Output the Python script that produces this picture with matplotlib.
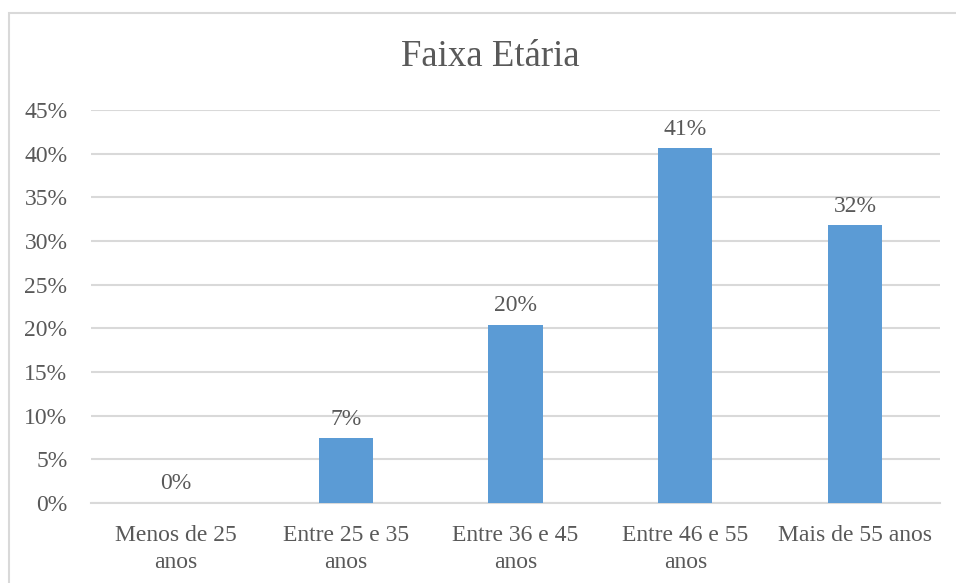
import matplotlib.pyplot as plt
from matplotlib.patches import Rectangle
from matplotlib.ticker import MultipleLocator, PercentFormatter

categories = ["Menos de 25\nanos", "Entre 25 e 35\nanos", "Entre 36 e 45\nanos",
              "Entre 46 e 55\nanos", "Mais de 55 anos"]
values = [0.0, 7.4, 20.4, 40.6, 31.8]
labels = ["0%", "7%", "20%", "41%", "32%"]

plt.rcParams["font.family"] = ["Liberation Serif", "DejaVu Serif"]
text_color = "#595959"
grid_color = "#D9D9D9"

fig = plt.figure(figsize=(9.56, 5.83), dpi=100)
fig.patches.append(Rectangle((9 / 956, -0.1), 1.2, (583 - 13) / 583 + 0.1,
                             transform=fig.transFigure, fill=False,
                             edgecolor=grid_color, linewidth=1.5))

ax = fig.add_axes([91 / 956, 80 / 583, 849 / 956, 393 / 583])
x = range(len(categories))
ax.bar(x, values, width=0.32, color="#5B9BD5", zorder=3)

for xi, v, lab in zip(x, values, labels):
    ax.text(xi, v + 1.0, lab, ha="center", va="bottom", fontsize=17, color=text_color)

ax.set_xlim(-0.5, len(categories) - 0.5)
ax.set_ylim(0, 45)
ax.yaxis.set_major_locator(MultipleLocator(5))
ax.yaxis.set_major_formatter(PercentFormatter(decimals=0))
ax.set_xticks(list(x))
ax.set_xticklabels(categories, fontsize=17, color=text_color, linespacing=1.35)
ax.tick_params(axis="y", labelsize=17, labelcolor=text_color, length=0, pad=17)
ax.tick_params(axis="x", length=0, pad=16)
ax.grid(axis="y", color=grid_color, linewidth=1.5, zorder=0)
for s in ["top", "right", "left"]:
    ax.spines[s].set_visible(False)
ax.spines["bottom"].set_color(grid_color)
ax.spines["bottom"].set_linewidth(1.5)

fig.text(490 / 956, 1 - 57 / 583, "Faixa Etária", ha="center", va="center",
         fontsize=26.5, color=text_color)

fig.savefig("out.png", dpi=100)
